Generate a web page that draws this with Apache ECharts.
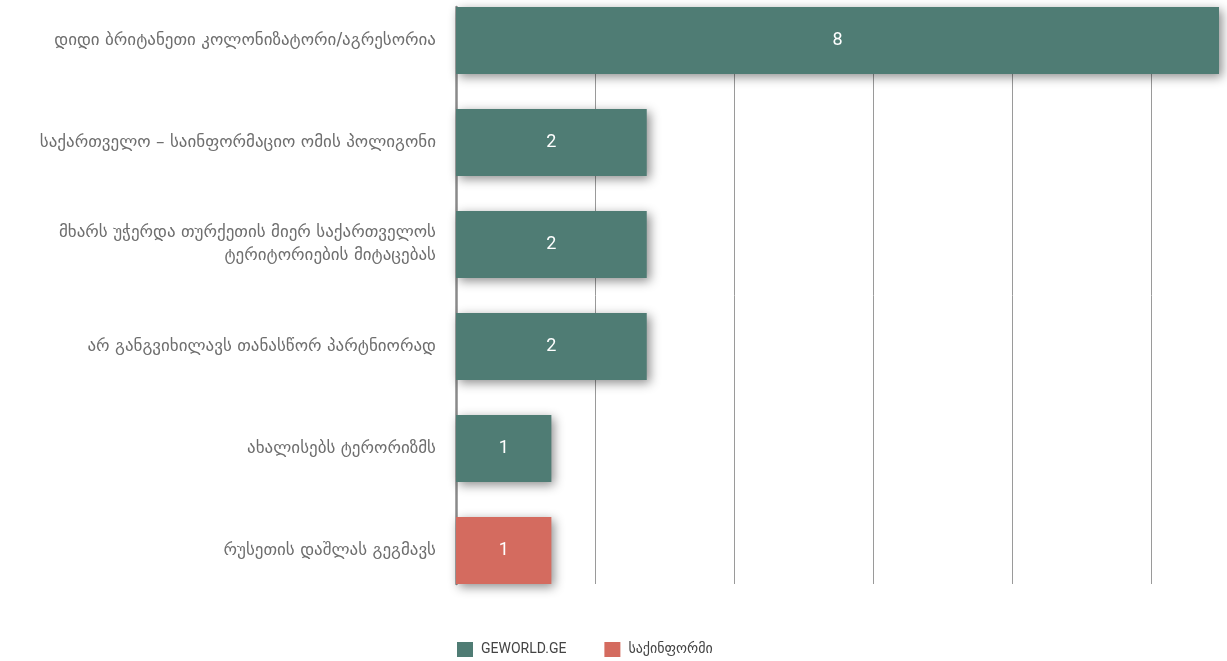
<!DOCTYPE html>
<html>
<head>
<meta charset="utf-8">
<script src="https://cdn.jsdelivr.net/npm/echarts@6/dist/echarts.min.js"></script>
<style>
  html, body { margin: 0; padding: 0; background: #fff; }
  #chart { width: 1227px; height: 661px; }
</style>
</head>
<body>
<div id="chart"></div>
<script>
// categories, top to bottom
const categories = [
  'დიდი ბრიტანეთი კოლონიზატორი/აგრესორია',
  'საქართველო – საინფორმაციო ომის პოლიგონი',
  'მხარს უჭერდა თურქეთის მიერ საქართველოს\nტერიტორიების მიტაცებას',
  'არ განგვიხილავს თანასწორ პარტნიორად',
  'ახალისებს ტერორიზმს',
  'რუსეთის დაშლას გეგმავს'
];
const seriesNames = ['GEWORLD.GE', 'საქინფორმი'];
const geworld = [8, 2, 2, 2, 1, null];
const sakinformi = [null, null, null, null, null, 1];

const colors = ['#4f7c74', '#d46b5f'];

const chart = echarts.init(document.getElementById('chart'));

const barLabel = {
  show: true,
  position: 'inside',
  color: '#fff',
  fontFamily: 'Roboto',
  fontSize: 18
};
const barShadow = {
  shadowBlur: 10,
  shadowColor: 'rgba(0,0,0,0.45)',
  shadowOffsetX: 3,
  shadowOffsetY: 3
};

chart.setOption({
  animation: false,
  color: colors,
  grid: [
    // bars
    { left: 456, width: 763, top: -10.5, height: 612, outerBoundsMode: 'none' },
    // background lines
    { left: 456, width: 695, top: 7, height: 577, outerBoundsMode: 'none' }
  ],
  legend: {
    left: 452,
    top: 637,
    itemWidth: 16,
    itemHeight: 15,
    itemGap: 38,
    icon: 'rect',
    textStyle: { color: '#444', fontFamily: 'Roboto, DejaVu Sans', fontSize: 14, padding: [0, 0, 0, 3] },
    data: seriesNames
  },
  xAxis: [
    { gridIndex: 0, type: 'value', min: 0, max: 8, show: false },
    {
      gridIndex: 1, type: 'value', min: 0, max: 5, interval: 1,
      axisLine: { show: false }, axisTick: { show: false }, axisLabel: { show: false },
      splitLine: { show: true, lineStyle: { color: '#9a9a9a', width: 1 } }
    }
  ],
  yAxis: [
    {
      gridIndex: 0, type: 'category', inverse: true, data: categories,
      axisLine: { show: false }, axisTick: { show: false },
      axisLabel: {
        margin: 20, color: '#6e6e6e', fontSize: 17, lineHeight: 23,
        fontFamily: 'DejaVu Sans', align: 'right'
      }
    },
    {
      gridIndex: 1, type: 'value', min: 0, max: 1,
      axisLine: { show: true, lineStyle: { color: '#8a8a8a', width: 2.5 } },
      axisTick: { show: false }, axisLabel: { show: false }, splitLine: { show: false }
    }
  ],
  series: [
    {
      name: seriesNames[0], type: 'bar', stack: 'one',
      xAxisIndex: 0, yAxisIndex: 0, barWidth: 67,
      data: geworld, label: barLabel, itemStyle: barShadow
    },
    {
      name: seriesNames[1], type: 'bar', stack: 'one',
      xAxisIndex: 0, yAxisIndex: 0, barWidth: 67,
      data: sakinformi, label: barLabel, itemStyle: barShadow
    }
  ]
});
</script>
</body>
</html>
